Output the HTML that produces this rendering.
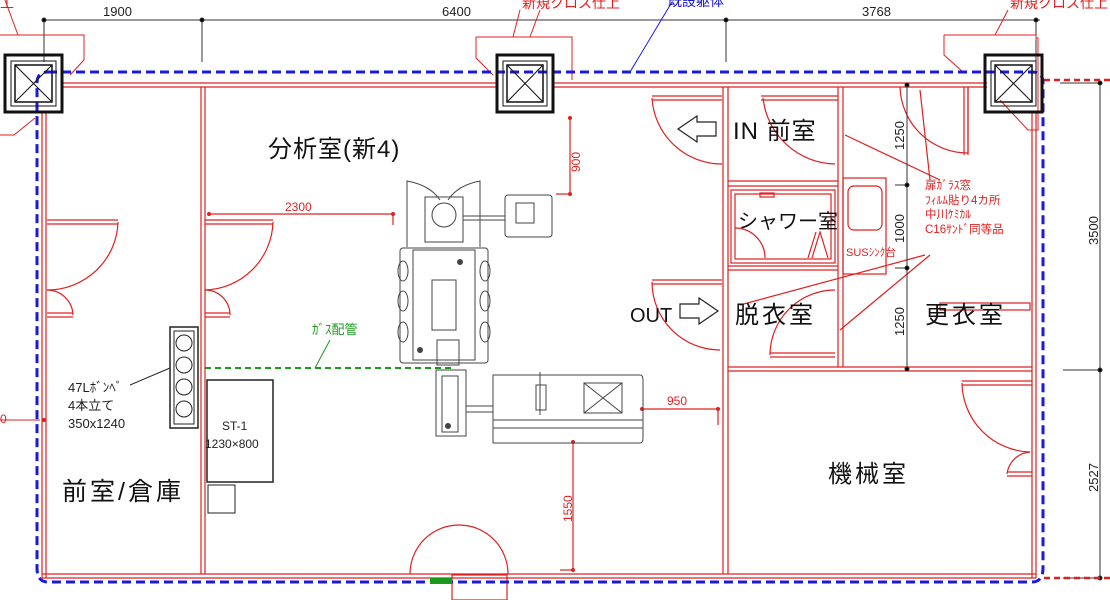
<!DOCTYPE html>
<html><head><meta charset="utf-8">
<style>
html,body{margin:0;padding:0;background:#fff;}
svg{display:block;}
text{font-family:"Liberation Sans","Noto Sans CJK JP",sans-serif;}
.t1{font-size:24px;letter-spacing:1px;}
.t2{font-size:24px;letter-spacing:4px;}
.t3{font-size:24px;letter-spacing:3px;}
.t4{font-size:24px;letter-spacing:1px;}
</style></head>
<body>
<svg width="1110" height="600" viewBox="0 0 1110 600" xmlns="http://www.w3.org/2000/svg">
<rect width="1110" height="600" fill="#fff"/>

<text x="522" y="8" font-size="14" fill="#e02020">新規クロス仕上</text>
<text x="1010" y="8" font-size="14" fill="#e02020">新規クロス仕上</text>
<text x="668" y="6" font-size="14" fill="#1a1adc">既設躯体</text>
<text x="0" y="8" font-size="14" fill="#e02020">工</text>

<g stroke="#333" stroke-width="1" fill="#000">
<line x1="44" y1="20" x2="1040" y2="20"/>
<line x1="44" y1="20" x2="44" y2="62"/>
<line x1="202" y1="20" x2="202" y2="62"/>
<line x1="726" y1="20" x2="726" y2="62"/>
<line x1="1036" y1="20" x2="1036" y2="62"/>
<circle cx="44" cy="20" r="2"/><circle cx="202" cy="20" r="2"/><circle cx="726" cy="20" r="2"/><circle cx="1036" cy="20" r="2"/>
</g>
<text x="103" y="16" font-size="13" fill="#222">1900</text>
<text x="442" y="16" font-size="13" fill="#222">6400</text>
<text x="862" y="16" font-size="13" fill="#222">3768</text>

<g stroke="#333" stroke-width="1" fill="#000">
<line x1="1100" y1="83" x2="1100" y2="580"/>
<line x1="1060" y1="83" x2="1100" y2="83"/>
<line x1="1063" y1="370" x2="1100" y2="370"/>
<line x1="1063" y1="578" x2="1100" y2="578"/>
<circle cx="1100" cy="83" r="2"/><circle cx="1100" cy="370" r="2"/><circle cx="1100" cy="578" r="2"/>
</g>
<text transform="translate(1098,245) rotate(-90)" font-size="13" fill="#222">3500</text>
<text transform="translate(1098,492) rotate(-90)" font-size="13" fill="#222">2527</text>

<g stroke="#e02020" stroke-width="1" fill="none">
<path d="M0,35 H84 V60 L70,75"/>
<path d="M0,135 H14 L35,118"/>
<path d="M5,0 L18,35"/>
<path d="M476,37 H572 V80 M476,37 V58 L493,75"/>
<path d="M530,37 L540,10"/>
<path d="M513,37 L520,10"/>
<path d="M944,35 H1036 V40 M944,35 V55 L963,72"/>
<path d="M1036,38 H1038 V130 H1028 L1000,100"/>
<path d="M995,35 L1008,10"/>
<line x1="1044" y1="80" x2="1110" y2="80" stroke-dasharray="6,4" stroke-width="2.5"/>
<line x1="1044" y1="578" x2="1110" y2="578" stroke-dasharray="6,4" stroke-width="2.5"/>
<line x1="0" y1="420" x2="40" y2="420"/>
</g>
<text x="0" y="423" font-size="12" fill="#e02020">0</text>
<line x1="630" y1="72" x2="672" y2="2" stroke="#1a1adc" stroke-width="1"/>

<g stroke="#e02020" stroke-width="1.2" fill="none">
<line x1="62" y1="83" x2="497" y2="83"/><line x1="62" y1="87" x2="497" y2="87"/>
<line x1="553" y1="83" x2="987" y2="83"/><line x1="553" y1="87" x2="987" y2="87"/>
<line x1="42" y1="112" x2="42" y2="578"/><line x1="46" y1="112" x2="46" y2="578"/>
<line x1="42" y1="574" x2="1036" y2="574"/><line x1="42" y1="578" x2="1036" y2="578"/>
<line x1="1032" y1="112" x2="1032" y2="578"/><line x1="1036" y1="112" x2="1036" y2="578"/>
<line x1="201" y1="87" x2="201" y2="574"/><line x1="205" y1="87" x2="205" y2="574"/>
<line x1="723" y1="87" x2="723" y2="574"/><line x1="728" y1="87" x2="728" y2="574"/>
<line x1="838" y1="87" x2="838" y2="367"/><line x1="843" y1="87" x2="843" y2="367"/>
<line x1="728" y1="367" x2="1032" y2="367"/><line x1="728" y1="371" x2="1032" y2="371"/>
<line x1="728" y1="181" x2="838" y2="181"/><line x1="728" y1="186" x2="838" y2="186"/>
<line x1="728" y1="266" x2="838" y2="266"/><line x1="728" y1="270" x2="838" y2="270"/>
<rect x="731" y="190" width="104" height="73"/>
<rect x="735" y="194" width="96" height="65"/>
<path d="M735,228 A30,30 0 0 1 765,258"/>
<path d="M812,258 L820,232 L828,258 M808,258 L816,232"/>
<rect x="760" y="193" width="14" height="4"/>
<rect x="843" y="178" width="43" height="96"/>
<rect x="848" y="186" width="34" height="44" rx="6"/>
<path d="M652,96 H722 M652,100 H722"/>
<path d="M652,98 A70,70 0 0 0 722,164"/>
<path d="M761,96 H838 M761,100 H838"/>
<path d="M763,98 A74,74 0 0 0 835,164"/>
<path d="M652,280 H722 M652,284 H722"/>
<path d="M652,282 A68,68 0 0 0 720,350"/>
<path d="M770,357 H835 M770,353 H835"/>
<path d="M770,355 A65,65 0 0 1 835,290"/>
<path d="M900,87 A68,68 0 0 0 968,153 V87"/>
<path d="M968,87 V155 M964,87 V155"/>
<rect x="940" y="303" width="90" height="7"/>
<path d="M962,381 H1032 M962,385 H1032"/>
<path d="M962,383 A70,70 0 0 0 1030,452"/>
<path d="M1007,472 H1032 M1007,476 H1032"/>
<path d="M1007,474 A25,25 0 0 1 1030,452"/>
<path d="M47,220 H118 M47,224 H118"/>
<path d="M118,222 A71,70 0 0 1 47,290"/>
<path d="M47,313 H73 M47,317 H73"/>
<path d="M73,315 A26,26 0 0 0 47,290"/>
<path d="M205,220 H273 M205,224 H273"/>
<path d="M273,222 A70,70 0 0 1 205,290"/>
<path d="M205,313 H230 M205,317 H230"/>
<path d="M230,315 A25,25 0 0 0 205,290"/>
<path d="M410,574 A48,48 0 0 1 508,574"/>
<rect x="452" y="575" width="55" height="25"/>
<path d="M845,135 L940,180 M930,180 L920,90 M925,255 L740,305 M930,255 L840,330"/>
<line x1="209" y1="214" x2="393" y2="214"/>
<line x1="393" y1="214" x2="393" y2="225"/>
<line x1="570" y1="118" x2="570" y2="194"/>
<line x1="556" y1="194" x2="570" y2="194"/>
<line x1="642" y1="409" x2="718" y2="409"/>
<line x1="718" y1="409" x2="718" y2="425"/>
<line x1="573" y1="442" x2="573" y2="570"/>
<line x1="560" y1="570" x2="573" y2="570"/>
</g>
<g fill="#e02020">
<circle cx="209" cy="214" r="2"/><circle cx="393" cy="214" r="2"/>
<circle cx="570" cy="118" r="2"/><circle cx="570" cy="194" r="2"/>
<circle cx="642" cy="409" r="2"/><circle cx="718" cy="409" r="2"/>
<circle cx="573" cy="442" r="2"/><circle cx="573" cy="570" r="2"/>
<circle cx="44" cy="420" r="2"/>
</g>
<text x="285" y="211" font-size="12" fill="#e02020">2300</text>
<text transform="translate(580,172) rotate(-90)" font-size="12" fill="#e02020">900</text>
<text x="667" y="405" font-size="12" fill="#e02020">950</text>
<text transform="translate(572,522) rotate(-90)" font-size="12" fill="#e02020">1550</text>

<g stroke="#333" stroke-width="1" fill="#000">
<line x1="907" y1="83" x2="907" y2="370"/>
<line x1="895" y1="185" x2="907" y2="185"/>
<line x1="895" y1="268" x2="907" y2="268"/>
<circle cx="907" cy="85" r="2"/><circle cx="907" cy="185" r="2"/><circle cx="907" cy="268" r="2"/><circle cx="907" cy="369" r="2"/>
</g>
<text transform="translate(904,150) rotate(-90)" font-size="13" fill="#222">1250</text>
<text transform="translate(904,243) rotate(-90)" font-size="13" fill="#222">1000</text>
<text transform="translate(904,336) rotate(-90)" font-size="13" fill="#222">1250</text>

<path d="M48,72 H1032 Q1043,72 1043,83 V568 Q1043,582 1032,582 H48 Q37,582 37,568 V83 Q37,72 48,72 Z" fill="none" stroke="#1a1adc" stroke-width="3" stroke-dasharray="9,5"/>

<g fill="none" stroke="#111">
<rect x="5" y="55" width="57" height="57" stroke-width="3"/>
<rect x="11" y="61" width="45" height="45" stroke-width="1"/>
<rect x="15" y="65" width="37" height="37" stroke-width="1.5"/>
<path d="M15,65 L52,102 M52,65 L15,102" stroke-width="1"/>
<rect x="497" y="55" width="56" height="57" stroke-width="3"/>
<rect x="503" y="61" width="44" height="45" stroke-width="1"/>
<rect x="507" y="65" width="36" height="37" stroke-width="1.5"/>
<path d="M507,65 L543,102 M543,65 L507,102" stroke-width="1"/>
<rect x="985" y="55" width="57" height="57" stroke-width="3"/>
<rect x="991" y="61" width="45" height="45" stroke-width="1"/>
<rect x="995" y="65" width="37" height="37" stroke-width="1.5"/>
<path d="M995,65 L1032,102 M1032,65 L995,102" stroke-width="1"/>
</g>

<g fill="none" stroke="#444" stroke-width="1">
<path d="M407,247 V181 Q430,185 440,200 M480,247 V181 Q458,185 448,200"/>
<rect x="425" y="197" width="38" height="45"/>
<circle cx="444" cy="215" r="12"/>
<line x1="463" y1="216" x2="505" y2="216"/><line x1="463" y1="220" x2="505" y2="220"/>
<rect x="505" y="195" width="47" height="42" rx="3"/>
<rect x="516" y="203" width="18" height="20"/>
<rect x="400" y="248" width="88" height="115" rx="3"/>
<rect x="413" y="250" width="62" height="110"/>
<rect x="432" y="280" width="24" height="50"/>
<ellipse cx="403" cy="271" rx="5" ry="10"/><ellipse cx="403" cy="301" rx="5" ry="10"/><ellipse cx="403" cy="332" rx="5" ry="10"/>
<ellipse cx="485" cy="271" rx="5" ry="10"/><ellipse cx="485" cy="301" rx="5" ry="10"/><ellipse cx="485" cy="332" rx="5" ry="10"/>
<rect x="437" y="340" width="22" height="25"/>
<rect x="436" y="370" width="30" height="66"/>
<rect x="442" y="376" width="16" height="56"/>
<line x1="466" y1="406" x2="493" y2="406"/><line x1="466" y1="412" x2="493" y2="412"/>
<path d="M493,375 H640 Q643,375 643,380 V438 Q643,443 640,443 H493 Z"/>
<line x1="493" y1="420" x2="643" y2="420"/><line x1="493" y1="428" x2="643" y2="428"/>
<rect x="584" y="383" width="38" height="30"/>
<path d="M584,383 L622,413 M622,383 L584,413"/>
<line x1="540" y1="372" x2="540" y2="415"/>
<rect x="536" y="385" width="10" height="25"/>
</g>
<g fill="#444"><circle cx="460" cy="262" r="3"/><circle cx="420" cy="350" r="3"/><circle cx="448" cy="426" r="3"/></g>

<g fill="none" stroke="#222">
<rect x="170" y="327" width="28" height="101" stroke-width="1.5"/>
<rect x="174" y="331" width="20" height="93"/>
<circle cx="184" cy="343" r="8"/><circle cx="184" cy="365" r="8"/><circle cx="184" cy="387" r="8"/><circle cx="184" cy="409" r="8"/>
<line x1="130" y1="385" x2="170" y2="368"/>
<rect x="207" y="380" width="66" height="102" stroke-width="1.5"/>
<rect x="208" y="485" width="27" height="28"/>
</g>
<g font-size="13" fill="#222">
<text x="68" y="392">47Lﾎﾞﾝﾍﾞ</text>
<text x="68" y="410">4本立て</text>
<text x="68" y="428">350x1240</text>
<text x="222" y="430" font-size="12">ST-1</text>
<text x="205" y="448" font-size="12">1230×800</text>
</g>

<line x1="205" y1="368" x2="455" y2="368" stroke="#1a9a1a" stroke-width="2" stroke-dasharray="6,4"/>
<line x1="315" y1="368" x2="330" y2="340" stroke="#1a9a1a" stroke-width="1"/>
<text x="312" y="334" font-size="13" fill="#1a9a1a">ｶﾞｽ配管</text>
<rect x="430" y="578" width="22" height="6" fill="#1a9a1a"/>

<path d="M716,122 H697 V116 L678,129 L697,142 V136 H716 Z" fill="#fff" stroke="#222" stroke-width="1.2"/>
<path d="M680,304 H699 V298 L718,311 L699,324 V318 H680 Z" fill="#fff" stroke="#222" stroke-width="1.2"/>

<g fill="#111">
<text x="268" y="157" class="t1">分析室(新4)</text>
<text x="62" y="500" font-size="25" letter-spacing="3">前室/倉庫</text>
<text x="828" y="482" class="t3">機械室</text>
<text x="733" y="139" class="t4">IN 前室</text>
<text x="738" y="228" font-size="20">シャワー室</text>
<text x="735" y="323" class="t3">脱衣室</text>
<text x="925" y="323" class="t3">更衣室</text>
<text x="630" y="322" font-size="20">OUT</text>
</g>
<g font-size="11.5" fill="#e02020">
<text x="925" y="189">扉ｶﾞﾗｽ窓</text>
<text x="925" y="204">ﾌｨﾙﾑ貼り4カ所</text>
<text x="925" y="218">中川ｹﾐｶﾙ</text>
<text x="925" y="233">C16ｻﾝﾄﾞ同等品</text>
<text x="846" y="256" font-size="11">SUSｼﾝｸ台</text>
</g>
</svg>
</body></html>
